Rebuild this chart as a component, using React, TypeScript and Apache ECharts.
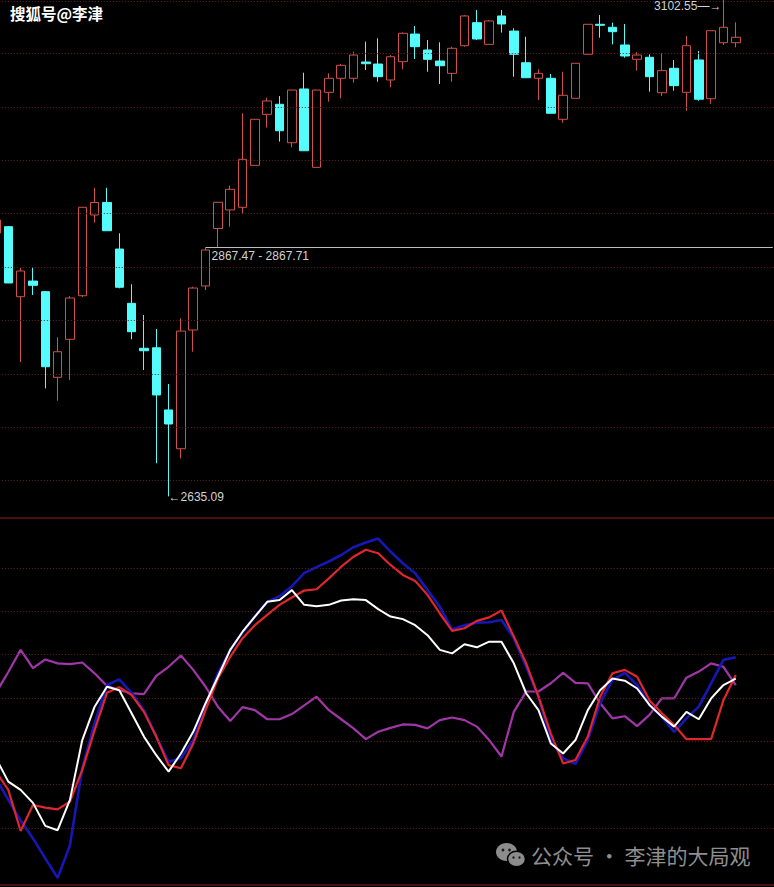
import { useEffect, useRef } from 'react';
import * as echarts from 'echarts';

// ---- data ----
// 61 visible trading days (the first one is only partly visible at the left edge)
const dayCount = 61;
const padCount = 3; // empty slots to the right of the last candle
const categories: string[] = Array.from({ length: dayCount + padCount }, (_, k) => `D${k + 1}`);

const opens = [2881.1, 2887.0, 2821.6, 2836.2, 2826.3, 2746.3, 2781.8, 2822.5, 2897.9, 2909.6, 2866.1, 2815.4, 2773.4, 2773.9, 2715.8, 2679.6, 2790.5, 2831.6, 2885.3, 2902.6, 2905.1, 2944.3, 2991.9, 3001.3, 2965.4, 3015.6, 2942.4, 3012.5, 3025.6, 3025.6, 3040.8, 3038.9, 3024.0, 3041.1, 3066.9, 3052.0, 3041.7, 3030.2, 3056.0, 3077.5, 3057.3, 3083.8, 3069.7, 3040.1, 3025.6, 3025.6, 2987.3, 3006.9, 3048.0, 3076.0, 3073.2, 3056.7, 3043.3, 3045.2, 3012.1, 3034.9, 3012.5, 3042.7, 3006.5, 3058.8, 3058.8];
const closes = [2893.2, 2834.4, 2845.6, 2832.2, 2756.2, 2770.2, 2820.4, 2905.1, 2909.6, 2883.2, 2830.4, 2788.9, 2771.1, 2729.8, 2702.7, 2789.5, 2829.7, 2865.2, 2909.8, 2921.9, 2949.9, 2987.3, 3004.4, 2976.6, 3014.6, 2957.9, 3014.6, 3025.6, 3037.7, 3047.3, 3039.2, 3027.1, 3045.7, 3067.6, 3055.1, 3043.3, 3037.3, 3053.6, 3083.8, 3062.3, 3079.1, 3076.3, 3048.0, 3026.1, 3030.2, 2992.9, 3009.7, 3039.6, 3076.0, 3075.1, 3069.1, 3046.4, 3047.3, 3027.1, 3032.7, 3018.7, 3056.0, 3006.0, 3070.0, 3073.2, 3063.9];
const lows = [2874.5, 2834.4, 2760.6, 2823.2, 2736.0, 2724.4, 2743.8, 2821.3, 2890.7, 2883.2, 2829.4, 2781.8, 2753.1, 2666.0, 2635.09, 2670.6, 2770.2, 2827.8, 2867.71, 2887.0, 2898.8, 2944.1, 2979.6, 2966.4, 2961.1, 2957.9, 2942.4, 3003.7, 3006.9, 3021.5, 3033.3, 3022.4, 3017.2, 3034.0, 3043.6, 3031.7, 3020.2, 3022.4, 3055.1, 3061.3, 3057.3, 3068.2, 3027.1, 3026.1, 3005.3, 2992.9, 2984.1, 3006.9, 3048.0, 3063.5, 3057.3, 3044.8, 3032.7, 3013.1, 3009.0, 3014.0, 2995.3, 3004.6, 3001.6, 3056.7, 3054.5];
const highs = [2897.9, 2887.6, 2848.4, 2849.0, 2826.9, 2783.7, 2822.2, 2905.4, 2923.3, 2923.3, 2880.8, 2833.2, 2804.5, 2791.4, 2740.0, 2801.4, 2830.9, 2867.47, 2910.0, 2925.3, 2992.9, 2987.6, 3007.4, 3009.0, 3014.6, 3030.8, 3014.6, 3030.2, 3038.9, 3050.4, 3059.8, 3062.9, 3047.3, 3068.5, 3074.4, 3061.3, 3059.2, 3055.1, 3084.7, 3089.4, 3080.0, 3089.4, 3072.3, 3064.4, 3034.0, 3029.6, 3031.7, 3039.6, 3076.0, 3084.7, 3077.5, 3076.3, 3049.9, 3048.0, 3048.9, 3042.7, 3065.1, 3051.1, 3070.0, 3102.55, 3077.9];

// indicator lines (lower panel)
const blueLine = [11.5, 6.5, 1.8, -2.4, -7.0, -11.5, -4.0, 13.8, 24.2, 33.0, 34.3, 31.2, 27.2, 21.1, 15.3, 16.1, 20.3, 28.0, 35.7, 41.1, 45.1, 48.8, 52.2, 53.5, 55.8, 58.8, 60.2, 61.5, 63.0, 64.8, 65.9, 66.8, 63.8, 61.1, 58.8, 54.9, 51.1, 45.8, 46.8, 47.4, 47.5, 48.0, 43.8, 37.2, 30.3, 20.3, 16.1, 14.8, 20.3, 28.8, 34.2, 35.8, 33.0, 28.4, 25.7, 22.2, 25.3, 28.0, 33.4, 38.8, 39.4];
const redLine = [13.0, 8.8, -0.7, 5.3, 4.7, 4.3, 6.1, 13.4, 22.6, 31.2, 32.5, 30.7, 26.8, 21.1, 14.5, 13.8, 19.5, 27.2, 34.5, 39.5, 43.8, 46.8, 49.2, 51.5, 53.2, 54.8, 55.1, 57.6, 60.3, 62.6, 64.2, 63.4, 60.7, 58.4, 57.0, 53.8, 49.5, 45.5, 46.1, 47.8, 48.6, 50.2, 44.2, 38.0, 30.3, 21.8, 14.9, 15.7, 21.1, 30.3, 35.7, 36.5, 34.9, 29.5, 26.5, 23.8, 20.5, 20.5, 20.5, 29.5, 35.3];
const whiteLine = [16.1, 10.7, 8.8, 5.8, 0.5, -0.5, 6.5, 20.3, 28.0, 32.6, 31.8, 26.5, 21.1, 16.8, 13.0, 17.2, 22.2, 28.8, 34.9, 41.1, 45.3, 48.8, 52.2, 52.6, 54.9, 51.5, 51.2, 51.5, 52.5, 52.8, 52.6, 50.5, 48.8, 48.2, 46.8, 44.5, 41.1, 40.3, 42.4, 41.7, 43.0, 43.0, 38.0, 31.1, 27.2, 19.5, 17.2, 20.3, 27.2, 31.8, 34.5, 34.0, 32.2, 28.4, 25.7, 23.4, 26.8, 25.1, 29.9, 33.0, 34.5];
const purpleLine = [31.2, 36.0, 41.1, 36.9, 38.9, 38.0, 37.8, 38.2, 35.7, 32.8, 31.8, 31.1, 30.9, 35.1, 37.2, 39.8, 36.5, 32.6, 28.0, 24.7, 27.9, 27.2, 25.1, 25.1, 26.3, 28.3, 30.3, 27.2, 25.1, 23.0, 20.5, 22.2, 23.1, 23.9, 23.8, 23.0, 24.9, 25.5, 24.9, 23.4, 20.3, 16.5, 26.8, 31.5, 31.5, 33.4, 35.8, 33.5, 33.4, 28.8, 25.3, 25.8, 23.5, 26.1, 29.9, 29.9, 34.7, 36.1, 38.0, 37.2, 33.0];

// annotations
const gapLow = 2867.47;
const gapHigh = 2867.71;
const lowDayIndex = 14;
const lowValue = 2635.09;
const highDayIndex = 59;
const highValue = 3102.55;
const gapStartIndex = 17;

// axis ranges and reference levels
const priceMin = 2614.9;
const priceMax = 3098.7;
const priceGridLevels = [3097.8, 3048.8, 2998.9, 2949.1, 2899.2, 2849.3, 2799.4, 2749.6, 2699.7, 2649.8];
const indMin = -13.15;
const indMax = 71.54;
const indGridLevels = [0, 10, 20, 30, 40, 50, 60];

const titleText = '搜狐号@李津';
const watermarkText = '公众号 · 李津的大局观';

const GRID_LEFT = -10.2;
const BAND = 12.33;
const GRID_WIDTH = BAND * (dayCount + padCount);

const dottedStyle = { color: '#6a2424', type: [1, 2] as number[], width: 1 };
const labelFont = { color: '#d2d2d2', fontSize: 12, fontFamily: 'Liberation Sans' };

function buildOption() {
  const candleData = opens.map((o, i) => [o, closes[i], lows[i], highs[i]]);
  return {
    animation: false,
    backgroundColor: '#000000',
    title: {
      text: titleText,
      left: 10,
      top: 5,
      padding: 0,
      textStyle: { color: '#ffffff', fontSize: 15.5, fontWeight: 'bold', fontFamily: 'Noto Sans CJK SC' },
    },
    grid: [
      { left: GRID_LEFT, top: 0, width: GRID_WIDTH, height: 518, show: false, outerBoundsMode: 'none', containLabel: false },
      { left: GRID_LEFT, top: 518, width: GRID_WIDTH, height: 367, show: true, borderColor: '#8a2020', borderWidth: 1, backgroundColor: 'transparent', outerBoundsMode: 'none', containLabel: false },
    ],
    xAxis: [
      { type: 'category', gridIndex: 0, data: categories, boundaryGap: true, show: false },
      { type: 'category', gridIndex: 1, data: categories, boundaryGap: true, show: false },
    ],
    yAxis: [
      { type: 'value', gridIndex: 0, min: priceMin, max: priceMax, show: false, scale: true },
      { type: 'value', gridIndex: 1, min: indMin, max: indMax, show: false },
    ],
    graphic: [
      {
        type: 'group',
        left: 496,
        top: 843,
        children: [
          { type: 'ellipse', shape: { cx: 10, cy: 10, rx: 10.5, ry: 9 }, style: { fill: '#8c8c8c' } },
          { type: 'circle', shape: { cx: 6.5, cy: 8, r: 1.4 }, style: { fill: '#1a1a1a' } },
          { type: 'circle', shape: { cx: 13, cy: 8, r: 1.4 }, style: { fill: '#1a1a1a' } },
          { type: 'ellipse', shape: { cx: 20, cy: 17, rx: 9, ry: 7.8 }, style: { fill: '#8c8c8c', stroke: '#000000', lineWidth: 1.5 } },
          { type: 'circle', shape: { cx: 17, cy: 15.5, r: 1.2 }, style: { fill: '#1a1a1a' } },
          { type: 'circle', shape: { cx: 23, cy: 15.5, r: 1.2 }, style: { fill: '#1a1a1a' } },
        ],
      },
      {
        type: 'text',
        left: 531,
        top: 844,
        style: { text: watermarkText, fill: '#8e8e8e', font: '21px "Noto Sans CJK SC"' },
      },
    ],
    series: [
      {
        type: 'candlestick',
        xAxisIndex: 0,
        yAxisIndex: 0,
        data: candleData,
        barWidth: 9,
        itemStyle: {
          color: '#000000',
          color0: '#54fcfc',
          borderColor: '#cf514b',
          borderColor0: '#54fcfc',
          borderWidth: 1,
        },
        markLine: {
          silent: true,
          symbol: ['none', 'none'],
          animation: false,
          data: [
            ...priceGridLevels.map((v) => ({ yAxis: v, lineStyle: dottedStyle, label: { show: false } })),
            [
              {
                coord: [categories[gapStartIndex], (gapLow + gapHigh) / 2],
                lineStyle: { color: '#bdbdbd', type: 'solid', width: 1 },
                label: {
                  show: true,
                  position: 'insideStartBottom',
                  formatter: `${gapLow.toFixed(2)} - ${gapHigh.toFixed(2)}`,
                  ...labelFont,
                  distance: [6, 3],
                },
              },
              { coord: [categories[categories.length - 1], (gapLow + gapHigh) / 2] },
            ],
          ],
        },
        markPoint: {
          silent: true,
          animation: false,
          symbol: 'circle',
          symbolSize: 0,
          data: [
            {
              coord: [categories[lowDayIndex], lowValue],
              label: {
                show: true,
                position: 'right',
                distance: 0,
                offset: [0, 1],
                formatter: `←${lowValue.toFixed(2)}`,
                ...labelFont,
              },
            },
            {
              // the high lies just above the visible price range; its label is pinned to the top edge
              coord: [categories[highDayIndex], Math.min(highValue, priceMax)],
              label: {
                show: true,
                position: 'left',
                distance: 2,
                offset: [0, 6],
                formatter: `${highValue.toFixed(2)}—→`,
                ...labelFont,
              },
            },
          ],
        },
      },
      {
        type: 'line',
        xAxisIndex: 1,
        yAxisIndex: 1,
        data: blueLine,
        symbol: 'none',
        clip: false,
        lineStyle: { color: '#1717b8', width: 2.6 },
        z: 3,
      },
      {
        type: 'line',
        xAxisIndex: 1,
        yAxisIndex: 1,
        data: redLine,
        symbol: 'none',
        clip: false,
        lineStyle: { color: '#e0272b', width: 2.2 },
        z: 4,
      },
      {
        type: 'line',
        xAxisIndex: 1,
        yAxisIndex: 1,
        data: whiteLine,
        symbol: 'none',
        clip: false,
        lineStyle: { color: '#ffffff', width: 2 },
        z: 5,
      },
      {
        type: 'line',
        xAxisIndex: 1,
        yAxisIndex: 1,
        data: purpleLine,
        symbol: 'none',
        clip: false,
        lineStyle: { color: '#a236a8', width: 2.2 },
        z: 2,
        markLine: {
          silent: true,
          symbol: ['none', 'none'],
          animation: false,
          label: { show: false },
          lineStyle: dottedStyle,
          data: indGridLevels.map((v) => ({ yAxis: v })),
        },
      },
    ],
  };
}

export default function App() {
  const ref = useRef<HTMLDivElement>(null);
  useEffect(() => {
    document.body.style.margin = '0';
    document.body.style.background = '#000';
    const chart = echarts.init(ref.current as HTMLDivElement, null, { renderer: 'svg' });
    chart.setOption(buildOption() as any);
    return () => {
      chart.dispose();
    };
  }, []);
  return (
    <div
      ref={ref}
      style={{ position: 'fixed', left: 0, top: 0, width: 774, height: 887, background: '#000' }}
    />
  );
}
